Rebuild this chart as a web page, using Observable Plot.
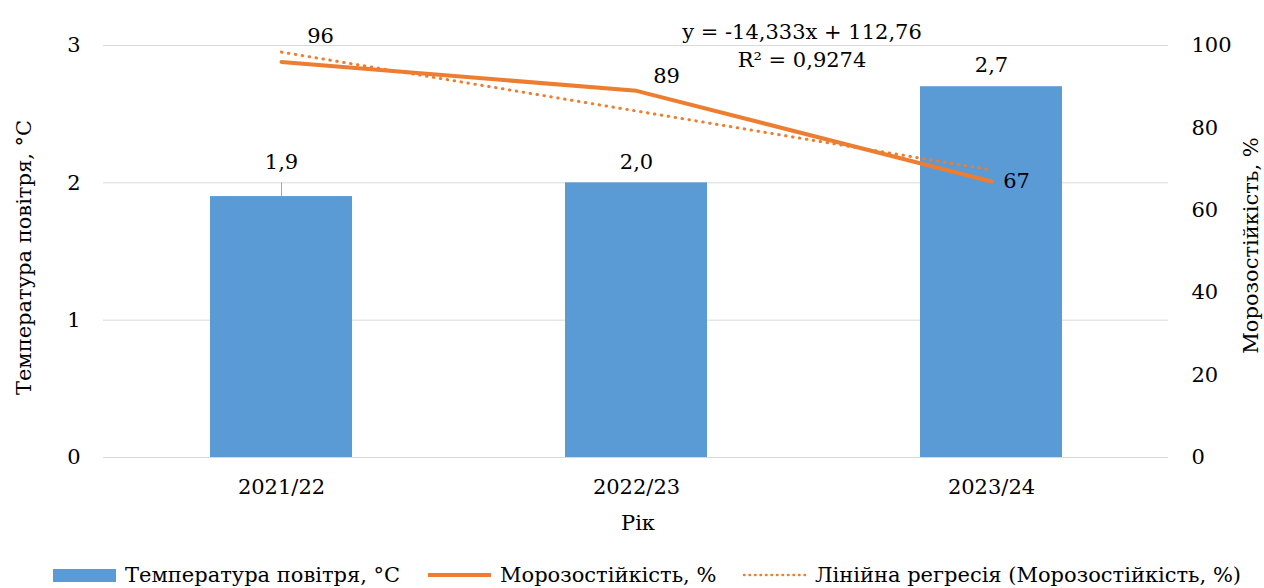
<!DOCTYPE html>
<html>
<head>
<meta charset="utf-8">
<script src="https://cdn.jsdelivr.net/npm/d3@7"></script>
<script src="https://cdn.jsdelivr.net/npm/@observablehq/plot@0.6"></script>
<style>
  html, body { margin: 0; padding: 0; background: #fff; }
  #chart { position: relative; width: 1264px; height: 588px; font-family: "DejaVu Serif", "Noto Serif", serif; }
  #legend { position: absolute; left: 0; top: 560px; width: 1264px; height: 30px; font-size: 21px; color: #000; }
  .li { position: absolute; top: 0; height: 30px; display: flex; align-items: center; white-space: nowrap; }
  .sw { display: inline-block; width: 63px; margin-right: 9px; }
</style>
</head>
<body>
<div id="chart"></div>
<script>
const years = ["2021/22", "2022/23", "2023/24"];
const temperature = [1.9, 2.0, 2.7];
const temperatureErrUp = [0.1, 0, 0];
const frostResistance = [96, 89, 67];
const frostTrend = [98.4, 84.1, 69.8];
const tempTicks = [0, 1, 2, 3];
const frostTicks = [0, 20, 40, 60, 80, 100];
const seriesNames = ["Температура повітря, °С", "Морозостійкість, %", "Лінійна регресія (Морозостійкість, %)"];
const axisTitles = {left: "Температура повітря, °С", right: "Морозостійкість, %", bottom: "Рік"};
const trendText = "y = -14,333x + 112,76\nR² = 0,9274";

const tempMax = 3, frostMax = 100;
const toLeft = v => v * tempMax / frostMax;

const rows = years.map((y, i) => ({
  year: y, temp: temperature[i], err: temperatureErrUp[i],
  frost: frostResistance[i], trend: frostTrend[i], i
}));

const blue = "#5b9bd5", orange = "#ed7d31";
const comma = v => v.toFixed(1).replace(".", ",");
const serif = "'DejaVu Serif', 'Noto Serif', serif";

const plot = Plot.plot({
  width: 1264,
  height: 548,
  marginLeft: 103,
  marginRight: 96,
  marginTop: 45,
  marginBottom: 91,
  style: {fontFamily: serif, fontSize: "21px", color: "#000", background: "#fff"},
  x: {type: "band", domain: years, paddingInner: 0.6, paddingOuter: 0.3, label: null},
  y: {domain: [0, tempMax], label: null},
  marks: [
    Plot.gridY(tempTicks, {stroke: "#d9d9d9", strokeOpacity: 1, strokeWidth: 1}),
    Plot.barY(rows, {x: "year", y: "temp", fill: blue}),
    Plot.ruleX(rows.filter(d => d.err > 0), {x: "year", y1: "temp", y2: d => d.temp + d.err, stroke: "#a6a6a6", strokeWidth: 1}),
    Plot.text(rows, {x: "year", y: d => d.temp + d.err, text: d => comma(d.temp), dy: -21, lineAnchor: "middle", fill: "#000"}),
    Plot.line(rows, {x: "year", y: d => toLeft(d.trend), stroke: orange, strokeWidth: 3, strokeDasharray: "0.5 6.5", strokeLinecap: "round"}),
    Plot.line(rows, {x: "year", y: d => toLeft(d.frost), stroke: orange, strokeWidth: 4, strokeLinecap: "round", strokeLinejoin: "round"}),
    Plot.text(rows.filter(d => d.i === 0), {x: "year", y: d => toLeft(d.frost), text: d => String(d.frost), dx: 39, dy: -26, lineAnchor: "middle", fill: "#000"}),
    Plot.text(rows.filter(d => d.i === 1), {x: "year", y: d => toLeft(d.frost), text: d => String(d.frost), dx: 30, dy: -15, lineAnchor: "middle", fill: "#000"}),
    Plot.text(rows.filter(d => d.i === 2), {x: "year", y: d => toLeft(d.frost), text: d => String(d.frost), dx: 25, dy: 0, lineAnchor: "middle", fill: "#000"}),
    Plot.text([trendText], {frameAnchor: "top", dx: 166, dy: -1, lineAnchor: "middle", lineHeight: 1.33, fill: "#000"}),
    Plot.axisY(tempTicks, {anchor: "left", tickSize: 0, tickPadding: 23, label: null, tickFormat: d => String(d)}),
    Plot.axisY(frostTicks.map(toLeft), {anchor: "right", tickSize: 0, tickPadding: 23, label: null, tickFormat: d => String(Math.round(d * frostMax / tempMax))}),
    Plot.axisX(years, {anchor: "bottom", tickSize: 0, tickPadding: 22, label: null}),
    Plot.text([axisTitles.left], {frameAnchor: "left", textAnchor: "middle", dx: -79, dy: 6, rotate: -90, lineAnchor: "middle", fill: "#000"}),
    Plot.text([axisTitles.right], {frameAnchor: "right", textAnchor: "middle", dx: 83, dy: -6, rotate: -90, lineAnchor: "middle", fill: "#000"}),
    Plot.text([axisTitles.bottom], {frameAnchor: "bottom", dx: 2, dy: 66, lineAnchor: "middle", fill: "#000"})
  ]
});

const chart = document.getElementById("chart");
chart.appendChild(plot);

const legend = document.createElement("div");
legend.id = "legend";
const legendLefts = [53, 428, 743];
const swatches = [
  `<span class="sw" style="height:13px;background:${blue}"></span>`,
  `<span class="sw" style="height:4px;background:${orange}"></span>`,
  `<svg class="sw" width="63" height="4" style="overflow:visible"><line x1="1" y1="2" x2="62" y2="2" stroke="${orange}" stroke-width="2.5" stroke-dasharray="0.5 5" stroke-linecap="round"/></svg>`
];
seriesNames.forEach((name, i) => {
  const item = document.createElement("div");
  item.className = "li";
  item.style.left = legendLefts[i] + "px";
  item.innerHTML = swatches[i] + `<span>${name}</span>`;
  legend.appendChild(item);
});
chart.appendChild(legend);
</script>
</body>
</html>
